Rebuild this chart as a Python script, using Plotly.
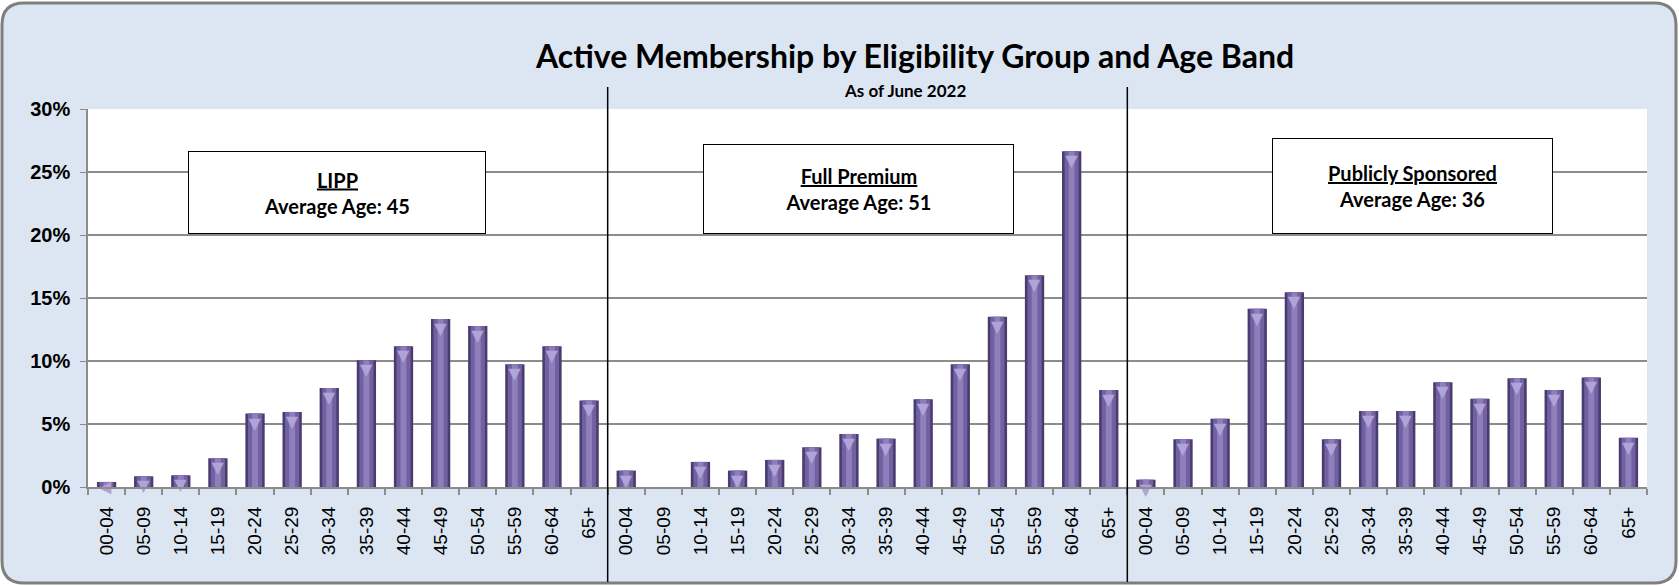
import plotly.graph_objects as go

# age bands (same for every eligibility group)
ages = ["00-04", "05-09", "10-14", "15-19", "20-24", "25-29", "30-34",
        "35-39", "40-44", "45-49", "50-54", "55-59", "60-64", "65+"]
groups = ["LIPP", "Full Premium", "Publicly Sponsored"]
avg_age = [45, 51, 36]

# share of members (%)
lipp = [0.4, 0.85, 0.93, 2.28, 5.83, 5.96, 7.85, 10.05, 11.18, 13.33, 12.78, 9.75, 11.18, 6.87]
full_premium = [1.3, 0.0, 1.99, 1.3, 2.15, 3.15, 4.21, 3.84, 6.97, 9.75, 13.52, 16.8, 26.64, 7.69]
publicly_sponsored = [0.58, 3.79, 5.41, 14.15, 15.45, 3.79, 6.04, 6.04, 8.32, 7.0, 8.64, 7.69, 8.7, 3.9]

series = [lipp, full_premium, publicly_sponsored]
values = [v / 100 for s in series for v in s]
xpos = list(range(len(values)))
labels = ages * len(groups)

W, H = 1679, 586
L, R, T, B = 88, 32, 109, 99
PW, PH = W - L - R, H - T - B


def px(x):
    return (x - L) / PW


def py(y):
    return (H - B - y) / PH


fig = go.Figure()

# fake bevel: dark outer bar, lighter inner strips, small cap triangle
fig.add_trace(go.Bar(x=xpos, y=values, width=0.52, marker=dict(color="#4B3C70", line=dict(width=0))))
fig.add_trace(go.Bar(x=xpos, y=values, width=0.38, marker=dict(color="#7161A0", line=dict(width=0))))
fig.add_trace(go.Bar(x=xpos, y=values, width=0.16, marker=dict(color="#8E7EBB", line=dict(width=0)),
                     text=["▼" if v > 0 else "" for v in values], textposition="inside",
                     insidetextanchor="end", constraintext="none", cliponaxis=False,
                     textfont=dict(family="DejaVu Sans", size=16, color="#B0A3D8")))

# rounded panel background
r = 22
x0, x1, y0, y1 = 2, 1676, 3, 583
path = (f"M {px(x0 + r)},{py(y0)} L {px(x1 - r)},{py(y0)} Q {px(x1)},{py(y0)} {px(x1)},{py(y0 + r)} "
        f"L {px(x1)},{py(y1 - r)} Q {px(x1)},{py(y1)} {px(x1 - r)},{py(y1)} "
        f"L {px(x0 + r)},{py(y1)} Q {px(x0)},{py(y1)} {px(x0)},{py(y1 - r)} "
        f"L {px(x0)},{py(y0 + r)} Q {px(x0)},{py(y0)} {px(x0 + r)},{py(y0)} Z")
shapes = [
    dict(type="path", xref="paper", yref="paper", path=path, fillcolor="#DCE6F2",
         line=dict(color="#7F7F7F", width=3), layer="below"),
    dict(type="rect", xref="paper", yref="paper", x0=0, x1=1, y0=0, y1=1,
         fillcolor="white", line=dict(width=0), layer="below"),
]
# group dividers
n = len(ages)
for k in range(1, len(groups)):
    shapes.append(dict(type="line", xref="x", yref="paper", x0=k * n - 0.5, x1=k * n - 0.5,
                       y0=py(582), y1=py(87), line=dict(color="black", width=1.5)))

annotations = [
    dict(text="Active Membership by Eligibility Group and Age Band", xref="paper", yref="paper",
         x=px(914), y=py(56), showarrow=False, xanchor="center", yanchor="middle",
         font=dict(family="Lato", size=32, color="black", weight="bold")),
    dict(text="As of June 2022", xref="paper", yref="paper",
         x=px(905), y=py(90), showarrow=False, xanchor="center", yanchor="middle",
         font=dict(family="Lato", size=17, color="black", weight="bold")),
]
boxes = [(188, 486, 151, 234), (703, 1014, 144, 234), (1272, 1553, 138, 234)]
for g, a, (bx0, bx1, by0, by1) in zip(groups, avg_age, boxes):
    annotations.append(dict(
        text=f"<u>{g}</u><br>Average Age: {a}", xref="paper", yref="paper",
        x=px((bx0 + bx1) / 2), y=py((by0 + by1) / 2), xanchor="center", yanchor="middle",
        showarrow=False, width=bx1 - bx0 - 2, height=by1 - by0 - 2, borderpad=0,
        bgcolor="white", bordercolor="black", borderwidth=1, align="center", valign="middle",
        font=dict(family="Lato", size=20, color="black", weight="bold")))

fig.update_layout(
    width=W, height=H,
    margin=dict(l=L, r=R, t=T, b=B),
    paper_bgcolor="white", plot_bgcolor="white",
    barmode="overlay", showlegend=False,
    shapes=shapes, annotations=annotations,
    xaxis=dict(range=[-0.5, len(values) - 0.5], tickmode="array", tickvals=xpos, ticktext=labels,
               tickangle=-90, ticks="", ticklabelstandoff=10, showgrid=False,
               showline=True, linecolor="#8C8C8C", linewidth=2,
               tickfont=dict(family="Liberation Sans", size=19, color="black"),
               minor=dict(ticks="outside", tick0=-0.5, dtick=1, ticklen=6, tickcolor="#8C8C8C",
                          tickwidth=1.5, showgrid=False)),
    yaxis=dict(range=[0, 0.30], dtick=0.05, tickformat=".0%", showgrid=True,
               gridcolor="#8C8C8C", gridwidth=1.5, zeroline=False,
               showline=True, linecolor="#8C8C8C", linewidth=1.5,
               ticks="outside", ticklen=6, tickcolor="#8C8C8C", ticklabelstandoff=6,
               tickfont=dict(family="Liberation Sans", size=20, color="black", weight="bold")),
)

fig.write_html("out.html", config={"displayModeBar": False},
               post_script="document.body.style.margin='0';")
